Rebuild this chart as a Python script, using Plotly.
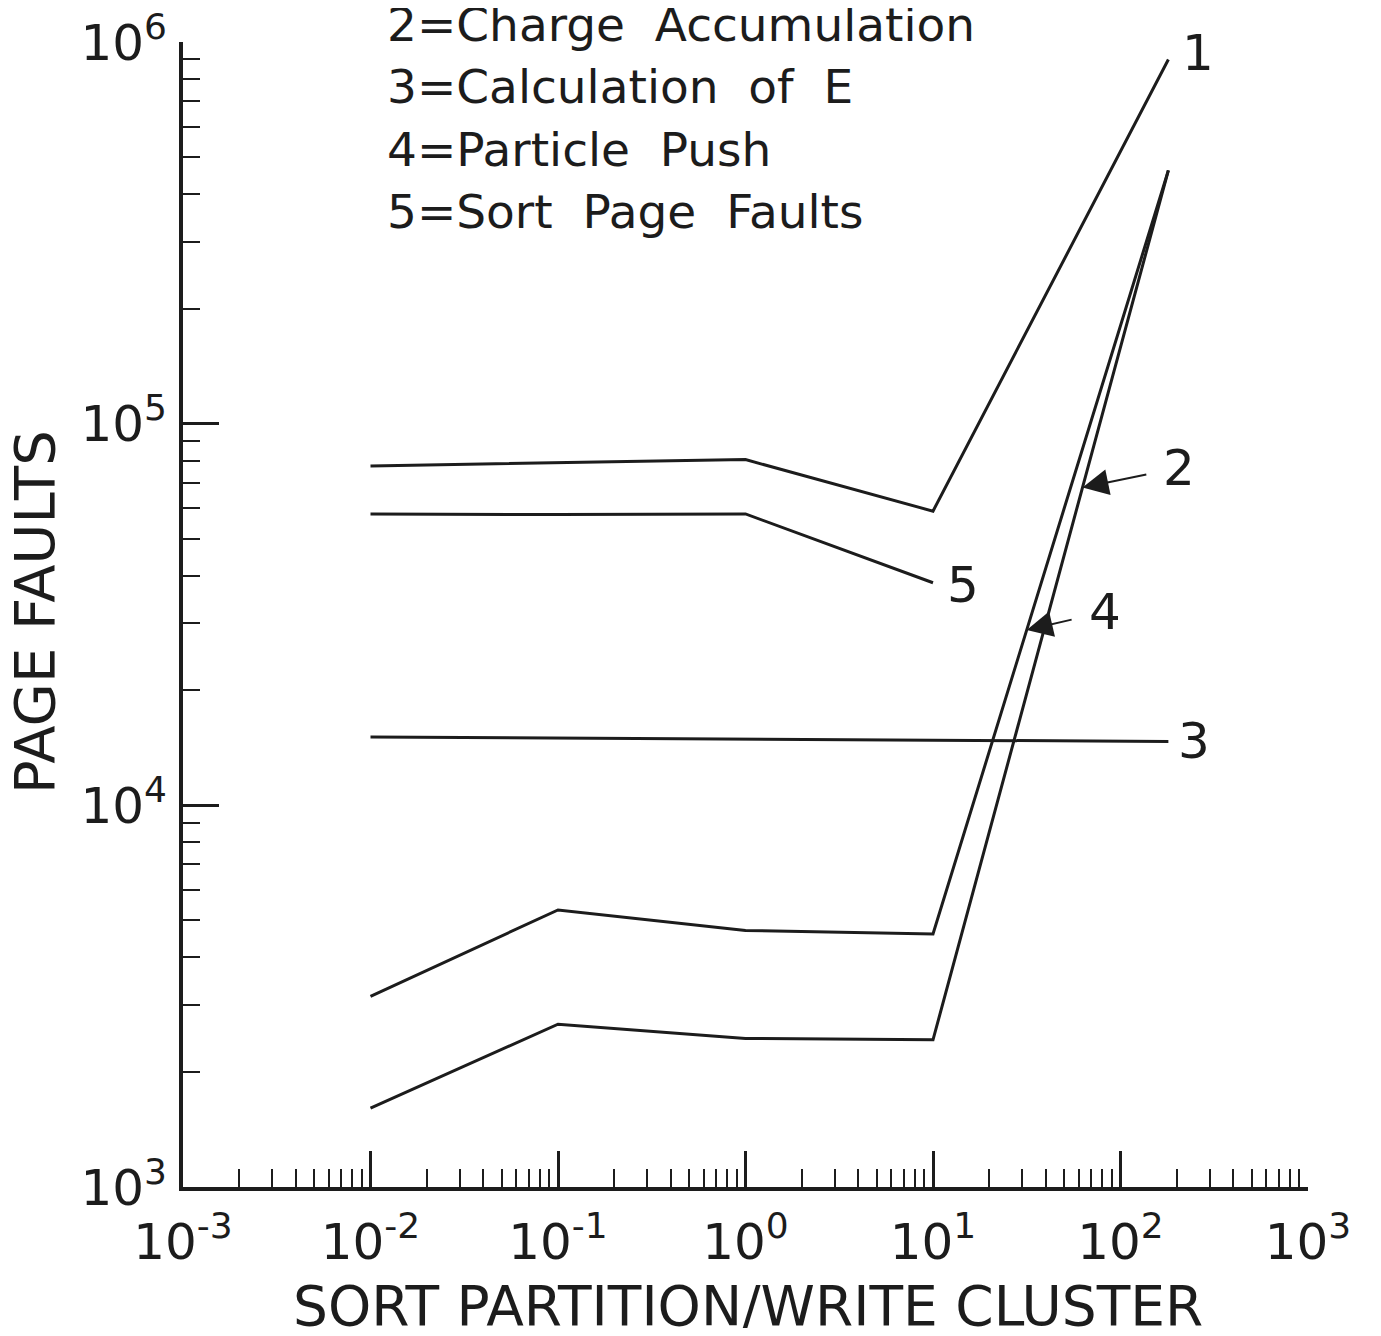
import numpy as np
import plotly.graph_objects as go

# ---------------- data ----------------
curve1_x = [0.01, 0.1, 1.0, 10.0, 180.0]
curve1_y = [77500, 79000, 80500, 59000, 900000]

curve2_x = [0.01, 0.1, 1.0, 10.0, 180.0]
curve2_y = [1610, 2670, 2450, 2430, 461000]

curve3_x = [0.01, 180.0]
curve3_y = [15100, 14700]

curve4_x = [0.01, 0.1, 1.0, 10.0, 180.0]
curve4_y = [3160, 5320, 4700, 4600, 461000]

curve5_x = [0.01, 0.1, 1.0, 10.0]
curve5_y = [58000, 57800, 58000, 38300]

legend_lines = [
    "2=Charge&nbsp;&nbsp;Accumulation",
    "3=Calculation&nbsp;&nbsp;of&nbsp;&nbsp;E",
    "4=Particle&nbsp;&nbsp;Push",
    "5=Sort&nbsp;&nbsp;Page&nbsp;&nbsp;Faults",
]

x_tickvals = [1e-3, 1e-2, 1e-1, 1e0, 1e1, 1e2, 1e3]
x_exps = ["-3", "-2", "-1", "0", "1", "2", "3"]
y_tickvals = [1e3, 1e4, 1e5, 1e6]
y_exps = ["3", "4", "5", "6"]

x_title = "SORT PARTITION/WRITE CLUSTER"
y_title = "PAGE FAULTS"

# arrow targets (page-fault level where the arrow touches the curve)
arrow2_y = 68000
arrow4_y = 28800

# ---------------- styling ----------------
INK = "#1c1c1c"
FONT = "DejaVu Sans"
W, H = 1381, 1336          # window size
OFF = 8                     # default body margin of the html page
L, R, T, B = 183, 73, 42, 149   # plot-area edges in window pixels

fig = go.Figure()
for xs, ys in [(curve1_x, curve1_y), (curve2_x, curve2_y), (curve3_x, curve3_y),
               (curve4_x, curve4_y), (curve5_x, curve5_y)]:
    fig.add_trace(go.Scatter(x=xs, y=ys, mode="lines",
                             line=dict(color=INK, width=3),
                             showlegend=False, hoverinfo="skip"))

def tick_text(e):
    return "10<sup><span style='font-size:36px'>" + e + "</span></sup>"

minor_x = [m * 10.0 ** k for k in range(-3, 3) for m in range(2, 10)]
minor_y = [m * 10.0 ** k for k in range(3, 6) for m in range(2, 10)]

fig.update_layout(
    width=W - 2 * OFF, height=H - 2 * OFF,
    margin=dict(l=L - OFF, r=R - OFF, t=T - OFF, b=B - OFF, pad=0),
    paper_bgcolor="white", plot_bgcolor="white",
    font=dict(family=FONT, color=INK),
    xaxis=dict(
        type="log", range=[-3, 3], automargin=False,
        tickmode="array", tickvals=x_tickvals,
        ticktext=[tick_text(e) for e in x_exps],
        ticks="inside", ticklen=36, tickwidth=2.5, tickcolor=INK,
        tickfont=dict(size=50, family=FONT, color=INK),
        ticklabelstandoff=8, ticklabeloverflow="allow",
        showline=True, linewidth=4, linecolor=INK,
        showgrid=False, zeroline=False,
        minor=dict(tickvals=minor_x, ticks="inside", ticklen=18,
                   tickwidth=2, tickcolor=INK, showgrid=False),
    ),
    yaxis=dict(
        type="log", range=[3, 6], automargin=False,
        tickmode="array", tickvals=y_tickvals,
        ticktext=[tick_text(e) for e in y_exps],
        ticks="inside", ticklen=36, tickwidth=2.5, tickcolor=INK,
        tickfont=dict(size=50, family=FONT, color=INK),
        ticklabelstandoff=2, ticklabeloverflow="allow",
        showline=True, linewidth=4, linecolor=INK,
        showgrid=False, zeroline=False,
        minor=dict(tickvals=minor_y, ticks="inside", ticklen=17,
                   tickwidth=2, tickcolor=INK, showgrid=False),
    ),
)

def px_to_paper(px, py):
    return (px - L) / (W - L - R), (H - B - py) / (H - T - B)

# legend block
for i, line in enumerate(legend_lines):
    xp, yp = px_to_paper(385, 25 + 62 * i)
    fig.add_annotation(x=xp, y=yp, xref="paper", yref="paper", text=line,
                       showarrow=False, xanchor="left", yanchor="middle",
                       font=dict(size=47, family=FONT, color=INK))

# axis titles
xp, yp = px_to_paper(748, 1306)
fig.add_annotation(x=xp, y=yp, xref="paper", yref="paper", text=x_title,
                   showarrow=False, xanchor="center", yanchor="middle",
                   font=dict(size=55, family=FONT, color=INK))
xp, yp = px_to_paper(34, 612)
fig.add_annotation(x=xp, y=yp, xref="paper", yref="paper", text=y_title,
                   showarrow=False, xanchor="center", yanchor="middle",
                   textangle=-90,
                   font=dict(size=56, family=FONT, color=INK))

# curve labels without arrows (placed just past curve ends)
def lastpt(xs, ys):
    return np.log10(xs[-1]), np.log10(ys[-1])

LBL = dict(size=50, family=FONT, color=INK)
lx, ly = lastpt(curve1_x, curve1_y)
fig.add_annotation(x=lx, y=ly, xref="x", yref="y", text="1", showarrow=False,
                   xshift=30, yshift=6, font=LBL)
lx, ly = lastpt(curve3_x, curve3_y)
fig.add_annotation(x=lx, y=ly, xref="x", yref="y", text="3", showarrow=False,
                   xshift=26, yshift=0, font=LBL)
lx, ly = lastpt(curve5_x, curve5_y)
fig.add_annotation(x=lx, y=ly, xref="x", yref="y", text="5", showarrow=False,
                   xshift=30, yshift=-2, font=LBL)

# arrowed labels for curves 2 and 4: tip located on the rising segment
def x_on_last_segment(xs, ys, target):
    lx0, lx1 = np.log10(xs[-2]), np.log10(xs[-1])
    ly0, ly1 = np.log10(ys[-2]), np.log10(ys[-1])
    t = (np.log10(target) - ly0) / (ly1 - ly0)
    return lx0 + t * (lx1 - lx0)

for xs, ys, target, label, ax, ay in [
    (curve2_x, curve2_y, arrow2_y, "2", 97, -20),
    (curve4_x, curve4_y, arrow4_y, "4", 78, -18),
]:
    fig.add_annotation(x=x_on_last_segment(xs, ys, target), y=np.log10(target),
                       xref="x", yref="y", text=label, showarrow=True,
                       ax=ax, ay=ay, arrowhead=2, arrowsize=2.6, arrowwidth=2,
                       arrowcolor=INK, standoff=0, startstandoff=16,
                       font=LBL)

fig.write_html("out.html")
